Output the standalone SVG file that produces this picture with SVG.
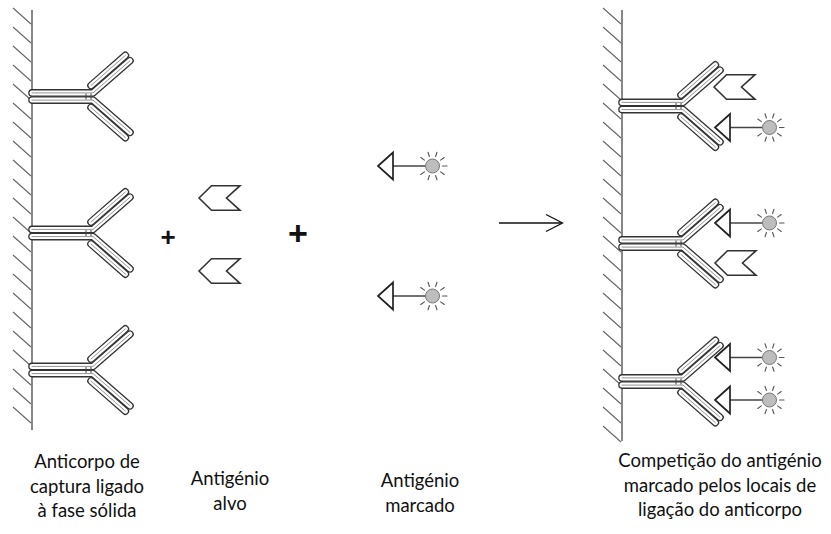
<svg xmlns="http://www.w3.org/2000/svg" xmlns:xlink="http://www.w3.org/1999/xlink" width="831" height="534" viewBox="0 0 831 534">
  <style>
    .wall { stroke: #555; stroke-width: 1.4; fill: none; }
    .hatch { stroke: #666; stroke-width: 1.1; fill: none; }
    .ch-o { stroke: #333; stroke-width: 7.6; fill: none; stroke-linecap: round; stroke-linejoin: round; }
    .ch-i { stroke: #fff; stroke-width: 5; fill: none; stroke-linecap: round; stroke-linejoin: round; }
    .ch-c { stroke: #888; stroke-width: 0.9; fill: none; stroke-linecap: round; stroke-linejoin: round; }
    .hinge { stroke: #444; stroke-width: 1; }
    .ag { fill: #fff; stroke: #333; stroke-width: 1.6; stroke-linejoin: miter; }
    .tri { fill: #fff; stroke: #222; stroke-width: 1.7; }
    .tether { stroke: #444; stroke-width: 1.3; }
    .dot { fill: #bdbdbd; stroke: #777; stroke-width: 1; }
    .ray { stroke: #555; stroke-width: 1.1; stroke-linecap: round; }
    .conn { stroke: #111; stroke-width: 1.3; fill: none; }
    .plus { font-family: "Liberation Sans", Arial, sans-serif; font-weight: bold; fill: #111; text-anchor: middle; }
    .lbl { font-family: Lato, "Open Sans", sans-serif; font-size: 18.5px; fill: #111; text-anchor: middle; }
  </style>
  <defs>
    <!-- one half of an immunoglobulin: heavy chain + light chain -->
    <g id="half">
      <path class="ch-o" d="M0,-3.6 L61,-3.6 L98,-35.8"/>
      <path class="ch-o" d="M59,-11 L93.4,-41.1"/>
      <path class="ch-i" d="M0,-3.6 L61,-3.6 L98,-35.8"/>
      <path class="ch-i" d="M59,-11 L93.4,-41.1"/>
      <path class="ch-c" d="M0,-3.6 L61,-3.6 L98,-35.8"/>
      <path class="ch-c" d="M59,-11 L93.4,-41.1"/>
    </g>
    <!-- Y-shaped antibody anchored at the wall (origin = stem centre) -->
    <g id="antibody">
      <use xlink:href="#half" href="#half"/>
      <use xlink:href="#half" href="#half" transform="scale(1,-1)"/>
      <line class="hinge" x1="54" y1="-3" x2="54" y2="3"/>
      <line class="hinge" x1="59" y1="-3" x2="59" y2="3"/>
    </g>
    <!-- unlabelled target antigen -->
    <polygon id="target" class="ag" points="0,0 12.5,-12.3 41,-12.3 27.5,0 41,12.3 12.5,12.3"/>
    <!-- labelled antigen: triangle, tether and glowing tracer -->
    <g id="tracer">
      <line class="tether" x1="15" y1="0" x2="47.5" y2="0"/>
      <polygon class="tri" points="0,0 15,-13.5 15,13.5"/>
      <circle class="dot" cx="54.5" cy="0" r="7"/>
      <g class="ray" transform="translate(54.5,0)">
        <line x1="10" y1="0" x2="14.5" y2="0"/>
        <line x1="10" y1="0" x2="14.5" y2="0" transform="rotate(36)"/>
        <line x1="10" y1="0" x2="14.5" y2="0" transform="rotate(72)"/>
        <line x1="10" y1="0" x2="14.5" y2="0" transform="rotate(108)"/>
        <line x1="10" y1="0" x2="14.5" y2="0" transform="rotate(144)"/>
        <line x1="10" y1="0" x2="14.5" y2="0" transform="rotate(-36)"/>
        <line x1="10" y1="0" x2="14.5" y2="0" transform="rotate(-72)"/>
        <line x1="10" y1="0" x2="14.5" y2="0" transform="rotate(-108)"/>
        <line x1="10" y1="0" x2="14.5" y2="0" transform="rotate(-144)"/>
      </g>
    </g>
  </defs>

  <rect width="831" height="534" fill="#fff"/>

  <!-- solid phase, left -->
  <g id="solid-phase-left">
    <line class="wall" x1="32" y1="10" x2="32" y2="430"/>
    <path class="hatch" d="M13,8 l18,16 m-18,3 l18,16 m-18,3 l18,16 m-18,3 l18,16 m-18,3 l18,16 m-18,3 l18,16 m-18,3 l18,16 m-18,3 l18,16 m-18,3 l18,16 m-18,3 l18,16 m-18,3 l18,16 m-18,3 l18,16 m-18,3 l18,16 m-18,3 l18,16 m-18,3 l18,16 m-18,3 l18,16 m-18,3 l18,16 m-18,3 l18,16 m-18,3 l18,16 m-18,3 l18,16 m-18,3 l18,16 m-18,3 l18,16"/>
  </g>
  <g id="antibody-left-1" transform="translate(32,96.5)"><use xlink:href="#antibody" href="#antibody"/></g>
  <g id="antibody-left-2" transform="translate(32,233)"><use xlink:href="#antibody" href="#antibody"/></g>
  <g id="antibody-left-3" transform="translate(32,370)"><use xlink:href="#antibody" href="#antibody"/></g>

  <g id="plus-1"><text class="plus" x="168" y="245.5" font-size="26">+</text></g>
  <g id="target-antigen-1" transform="translate(199,198)"><use xlink:href="#target" href="#target"/></g>
  <g id="target-antigen-2" transform="translate(199,271)"><use xlink:href="#target" href="#target"/></g>
  <g id="plus-2"><text class="plus" x="298" y="244.5" font-size="34">+</text></g>

  <g id="labelled-antigen-1" transform="translate(378,166)"><use xlink:href="#tracer" href="#tracer"/></g>
  <g id="labelled-antigen-2" transform="translate(378,296)"><use xlink:href="#tracer" href="#tracer"/></g>

  <!-- connectors -->
  <g id="connectors">
    <line class="conn" x1="499" y1="223" x2="562" y2="223"/>
    <polyline class="conn" points="546,214.5 562.5,223 546,231.5"/>
  </g>

  <!-- solid phase, right (after competition) -->
  <g id="solid-phase-right">
    <line class="wall" x1="622" y1="10" x2="622" y2="441"/>
    <path class="hatch" d="M603,8 l18,16 m-18,3 l18,16 m-18,3 l18,16 m-18,3 l18,16 m-18,3 l18,16 m-18,3 l18,16 m-18,3 l18,16 m-18,3 l18,16 m-18,3 l18,16 m-18,3 l18,16 m-18,3 l18,16 m-18,3 l18,16 m-18,3 l18,16 m-18,3 l18,16 m-18,3 l18,16 m-18,3 l18,16 m-18,3 l18,16 m-18,3 l18,16 m-18,3 l18,16 m-18,3 l18,16 m-18,3 l18,16 m-18,3 l18,16 m-18,3 l18,16"/>
  </g>
  <g id="antibody-right-1" transform="translate(622,106)"><use xlink:href="#antibody" href="#antibody"/></g>
  <g id="antibody-right-2" transform="translate(622,243.5)"><use xlink:href="#antibody" href="#antibody"/></g>
  <g id="antibody-right-3" transform="translate(622,381.5)"><use xlink:href="#antibody" href="#antibody"/></g>

  <g id="bound-target-1" transform="translate(714,87)"><use xlink:href="#target" href="#target"/></g>
  <g id="bound-tracer-1" transform="translate(715,127.5)"><use xlink:href="#tracer" href="#tracer"/></g>
  <g id="bound-tracer-2" transform="translate(715,223)"><use xlink:href="#tracer" href="#tracer"/></g>
  <g id="bound-target-2" transform="translate(715,263)"><use xlink:href="#target" href="#target"/></g>
  <g id="bound-tracer-3" transform="translate(715,357.5)"><use xlink:href="#tracer" href="#tracer"/></g>
  <g id="bound-tracer-4" transform="translate(715,400)"><use xlink:href="#tracer" href="#tracer"/></g>

  <!-- captions -->
  <g id="caption-capture">
    <text class="lbl" x="87" y="468">Anticorpo de</text>
    <text class="lbl" x="87" y="492.5">captura ligado</text>
    <text class="lbl" x="87" y="517">à fase sólida</text>
  </g>
  <g id="caption-target">
    <text class="lbl" x="230" y="485">Antigénio</text>
    <text class="lbl" x="230" y="509.5">alvo</text>
  </g>
  <g id="caption-labelled">
    <text class="lbl" x="420" y="487">Antigénio</text>
    <text class="lbl" x="420" y="511.5">marcado</text>
  </g>
  <g id="caption-competition">
    <text class="lbl" x="720" y="467">Competição do antigénio</text>
    <text class="lbl" x="720" y="491.5">marcado pelos locais de</text>
    <text class="lbl" x="720" y="516">ligação do anticorpo</text>
  </g>
</svg>
